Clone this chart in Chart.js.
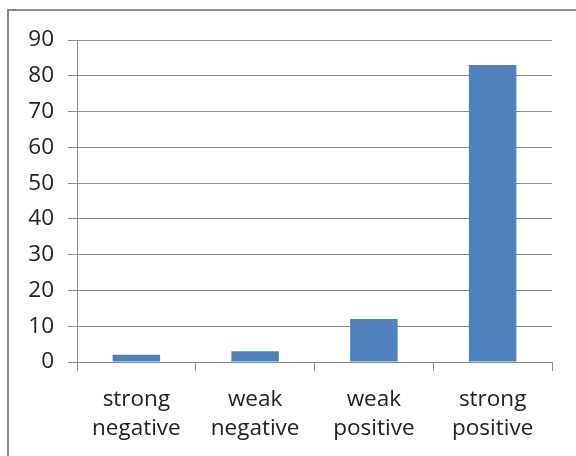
<!DOCTYPE html>
<html>
<head>
<meta charset="utf-8">
<script src="https://cdn.jsdelivr.net/npm/chart.js@4/dist/chart.umd.min.js"></script>
<style>
  html, body { margin: 0; padding: 0; background: #fff; }
  #wrap { position: relative; width: 576px; height: 456px; overflow: hidden; }
  #frame { position: absolute; left: 7px; top: 9px; width: 600px; height: 500px;
           border-left: 2px solid #8a8a8a; border-top: 2px solid #8a8a8a; box-sizing: border-box; }
  canvas { position: absolute; left: 0; top: 0; }
</style>
</head>
<body>
<div id="wrap">
  <div id="frame"></div>
  <canvas id="c" width="576" height="456"></canvas>
</div>
<script>
// Correlation strength categories and their counts
const categories = [["strong", "negative"], ["weak", "negative"], ["weak", "positive"], ["strong", "positive"]];
const counts = [2, 3, 12, 83];
const yTicks = [0, 10, 20, 30, 40, 50, 60, 70, 80, 90];

const font = { family: "'Open Sans', sans-serif", size: 22.5, lineHeight: 1.29 };
const gridGray = '#8c8c8c';

new Chart(document.getElementById('c'), {
  type: 'bar',
  data: {
    labels: categories,
    datasets: [{
      data: counts,
      backgroundColor: '#4f81bd',
      borderWidth: 0,
      categoryPercentage: 1.0,
      barPercentage: 0.4
    }]
  },
  options: {
    responsive: false,
    animation: false,
    layout: { padding: { top: 40, right: 24, bottom: 0, left: 0 } },
    plugins: { legend: { display: false }, tooltip: { enabled: false } },
    scales: {
      x: {
        grid: { drawOnChartArea: false, drawTicks: true, tickLength: 9, color: gridGray, offset: true },
        border: { color: gridGray, width: 1 },
        ticks: { color: '#222', font: font, padding: 14, maxRotation: 0 },
        afterFit: s => { s.height = 94; }
      },
      y: {
        min: 0, max: 90,
        afterBuildTicks: s => { s.ticks = yTicks.map(v => ({ value: v })); },
        grid: { color: gridGray, tickLength: 9 },
        border: { color: gridGray, width: 1 },
        ticks: { color: '#222', font: font, padding: 14 },
        afterFit: s => { s.width = 77; }
      }
    }
  }
});
</script>
</body>
</html>
